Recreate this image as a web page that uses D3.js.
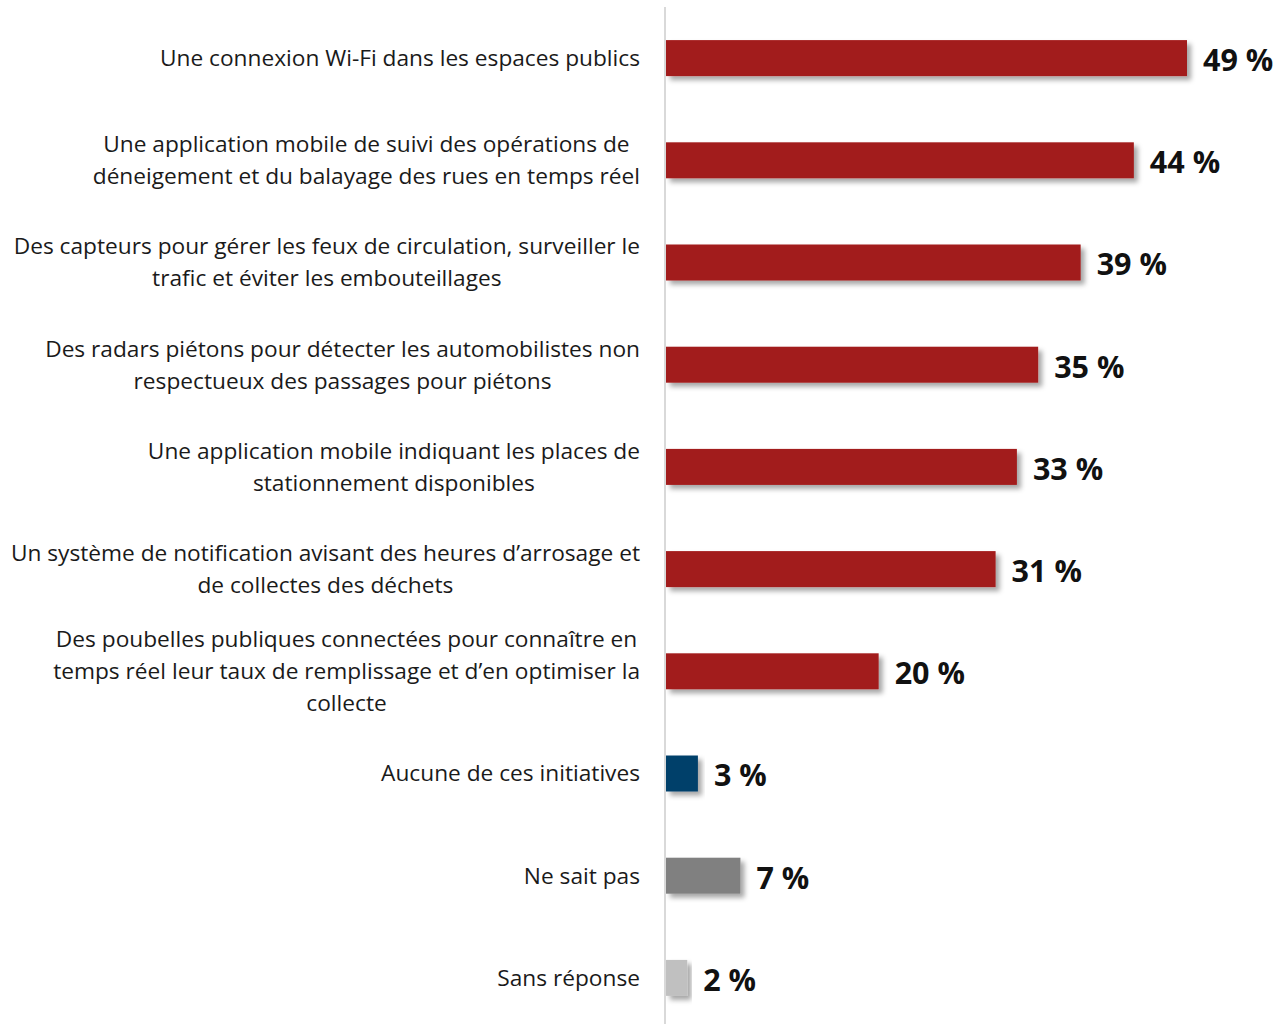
<!DOCTYPE html>
<html>
<head>
<meta charset="utf-8">
<script src="https://cdn.jsdelivr.net/npm/d3@7"></script>
<style>
  body { margin: 0; background: #fff; }
  svg { display: block; }
</style>
</head>
<body>
<div id="chart"></div>
<script>
// labels, one array of lines per category
const categories = [
  ["Une connexion Wi-Fi dans les espaces publics"],
  ["Une application mobile de suivi des opérations de", "déneigement et du balayage des rues en temps réel"],
  ["Des capteurs pour gérer les feux de circulation, surveiller le", "trafic et éviter les embouteillages"],
  ["Des radars piétons pour détecter les automobilistes non", "respectueux des passages pour piétons"],
  ["Une application mobile indiquant les places de", "stationnement disponibles"],
  ["Un système de notification avisant des heures d\u2019arrosage et", "de collectes des déchets"],
  ["Des poubelles publiques connectées pour connaître en", "temps réel leur taux de remplissage et d\u2019en optimiser la", "collecte"],
  ["Aucune de ces initiatives"],
  ["Ne sait pas"],
  ["Sans réponse"]
];
const values = [49, 44, 39, 35, 33, 31, 20, 3, 7, 2];
const colors = ["#a21c1c", "#a21c1c", "#a21c1c", "#a21c1c", "#a21c1c", "#a21c1c", "#a21c1c", "#003f6b", "#808080", "#c0c0c0"];

const width = 1281, height = 1024;
const axisX = 665;

let svg = d3.select("#chart").append("svg")
  .attr("width", width)
  .attr("height", height);

let defs = svg.append("defs");
defs.append("filter")
  .attr("id", "shadow")
  .attr("x", "-10%").attr("y", "-30%")
  .attr("width", "130%").attr("height", "170%")
  .append("feDropShadow")
  .attr("dx", 4).attr("dy", 4)
  .attr("stdDeviation", 2.5)
  .attr("flood-color", "#000")
  .attr("flood-opacity", 0.35);

let y = d3.scaleBand()
  .domain(d3.range(values.length))
  .range([7, 1029])
  .paddingInner(0.648)
  .paddingOuter(0.324);

let x = d3.scaleLinear()
  .domain([0, 49])
  .range([axisX + 1, axisX + 1 + 521]);

// bars
svg.selectAll("rect.bar")
  .data(values)
  .enter()
  .append("rect")
  .attr("class", "bar")
  .attr("x", x(0))
  .attr("y", (d, i) => y(i))
  .attr("width", d => x(d) - x(0))
  .attr("height", y.bandwidth())
  .attr("fill", (d, i) => colors[i])
  .attr("filter", "url(#shadow)");

// axis line
svg.append("line")
  .attr("x1", axisX).attr("x2", axisX)
  .attr("y1", 7).attr("y2", height)
  .attr("stroke", "#d9d9d9")
  .attr("stroke-width", 2);

// value labels
svg.selectAll("text.val")
  .data(values)
  .enter()
  .append("text")
  .attr("class", "val")
  .attr("x", d => x(d) + 16)
  .attr("y", (d, i) => y(i) + y.bandwidth() / 2)
  .attr("dy", "0.42em")
  .style("font-family", "'Open Sans', sans-serif")
  .style("font-weight", "bold")
  .style("font-size", "30.5px")
  .attr("fill", "#111")
  .text(d => d + " %");

// category labels, centred lines, block right-aligned
const lineH = 32;
let lab = svg.selectAll("g.lab")
  .data(categories)
  .enter()
  .append("g")
  .attr("class", "lab");

lab.each(function(lines, i) {
  let g = d3.select(this);
  let cy = y(i) + y.bandwidth() / 2;
  let t = g.selectAll("text")
    .data(lines)
    .enter()
    .append("text")
    .attr("text-anchor", "middle")
    .attr("y", (d, j) => cy + (j - (lines.length - 1) / 2) * lineH)
    .attr("dy", "0.35em")
    .style("font-family", "'Open Sans', sans-serif")
    .style("font-size", "22.7px")
    .attr("fill", "#1a1a1a")
    .text(d => d);
  let maxW = 0;
  t.each(function() { maxW = Math.max(maxW, this.getComputedTextLength()); });
  t.attr("x", 640 - maxW / 2);
});
</script>
</body>
</html>
